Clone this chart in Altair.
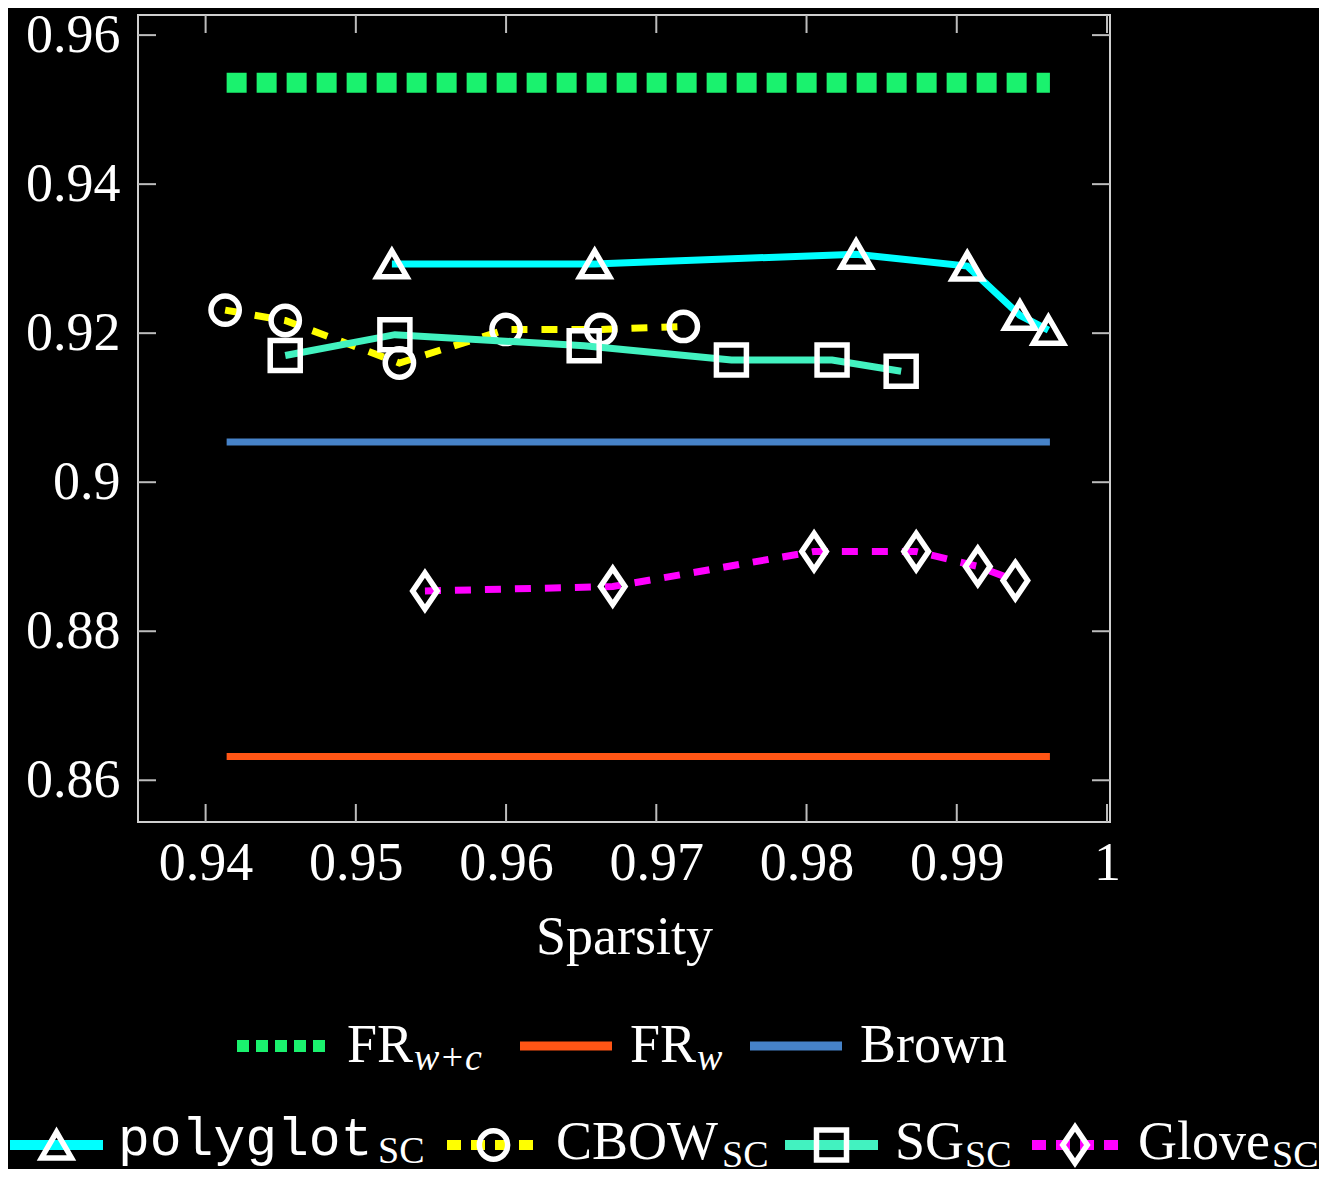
import altair as alt
import pandas as pd

# ---------------- data ----------------
const_x = [0.9414, 0.9962]
fr_wc_y = 0.9536
fr_w_y = 0.8632
brown_y = 0.9054

poly_x = [0.9524, 0.9659, 0.9833, 0.9907, 0.9942, 0.9961]
poly_y = [0.9293, 0.9293, 0.9306, 0.9290, 0.9224, 0.9204]
cbow_x = [0.9413, 0.9453, 0.9529, 0.9600, 0.9663, 0.9718]
cbow_y = [0.9231, 0.9217, 0.9160, 0.9205, 0.9205, 0.9209]
sg_x = [0.9453, 0.9526, 0.9652, 0.9750, 0.9817, 0.9863]
sg_y = [0.9170, 0.9198, 0.9183, 0.9164, 0.9164, 0.9149]
glove_x = [0.9546, 0.9671, 0.9805, 0.9873, 0.9914, 0.9939]
glove_y = [0.8854, 0.8860, 0.8907, 0.8907, 0.8887, 0.8868]

x_ticks = [0.94, 0.95, 0.96, 0.97, 0.98, 0.99, 1.0]
y_ticks = [0.86, 0.88, 0.90, 0.92, 0.94, 0.96]

# ---------------- style ----------------
W, H = 972, 807
SERIF = "Liberation Serif"
MONO = "Liberation Mono"
FS = 54
TICK_COLOR = "#bdbdbd"

xscale = alt.Scale(domain=[0.9355, 1.0002], nice=False, zero=False)
yscale = alt.Scale(domain=[0.8544, 0.9627], nice=False, zero=False)
xaxis = alt.Axis(values=x_ticks, format=".2~f", domain=False, ticks=False, tickSize=0,
                 grid=False, labelPadding=14, labelFont=SERIF, labelFontSize=FS,
                 labelColor="white", labelFlush=False, labelOverlap=False,
                 title="Sparsity", titleFont=SERIF, titleFontSize=FS,
                 titleFontWeight="normal", titleColor="white", titlePadding=20)
yaxis = alt.Axis(values=y_ticks, format=".2~f", domain=False, ticks=False, tickSize=0,
                 grid=False, labelPadding=18, labelFont=SERIF, labelFontSize=FS,
                 labelColor="white", labelFlush=False, labelOverlap=False, title=None)
X = alt.X("x:Q", scale=xscale, axis=xaxis)
Y = alt.Y("y:Q", scale=yscale, axis=yaxis)

layers = []

def series(xs, ys, color, width, dash=None, shape=None, size=None):
    df = pd.DataFrame({"x": xs, "y": ys})
    kw = dict(color=color, strokeWidth=width, strokeCap="butt")
    if dash:
        kw["strokeDash"] = dash
    layers.append(alt.Chart(df).mark_line(**kw).encode(x=X, y=Y))
    if shape:
        layers.append(alt.Chart(df).mark_point(shape=shape, size=size, filled=False,
                                               stroke="white", strokeWidth=5.5, opacity=1,
                                               strokeJoin="miter")
                      .encode(x=X, y=Y))

DIAMOND = "M0,-1L-0.68,0L0,1L0.68,0Z"

series(const_x, [fr_wc_y] * 2, "#1AF26E", 20, dash=[20, 10])
series(const_x, [fr_w_y] * 2, "#FF5515", 7)
series(const_x, [brown_y] * 2, "#4682C8", 7)
series(poly_x, poly_y, "#00FFFF", 7, shape="triangle-up", size=900)
series(cbow_x, cbow_y, "#FFFF00", 7, dash=[16, 14], shape="circle", size=800)
series(sg_x, sg_y, "#42F2C0", 7, shape="square", size=900)
series(glove_x, glove_y, "#FF00FF", 7, dash=[16, 14], shape=DIAMOND, size=1300)

# inside ticks on all four sides
xt = pd.DataFrame({"x": x_ticks})
yt = pd.DataFrame({"y": y_ticks})
TL = 18
layers.append(alt.Chart(xt).mark_rule(color=TICK_COLOR, strokeWidth=2)
              .encode(x=X, y=alt.value(H), y2=alt.value(H - TL)))
layers.append(alt.Chart(xt).mark_rule(color=TICK_COLOR, strokeWidth=2)
              .encode(x=X, y=alt.value(0), y2=alt.value(TL)))
layers.append(alt.Chart(yt).mark_rule(color=TICK_COLOR, strokeWidth=2)
              .encode(y=Y, x=alt.value(0), x2=alt.value(TL)))
layers.append(alt.Chart(yt).mark_rule(color=TICK_COLOR, strokeWidth=2)
              .encode(y=Y, x=alt.value(W - TL), x2=alt.value(W)))

# ---------------- manual legend (two rows below the plot) ----------------
one = alt.Data(values=[{"k": 1}])
OX, OY = 138, 15  # page offset of plot origin

def leg(x0, x1, yc, color, width, dash, shape, size, label, font, tx, base, sub, sx, sub_italic):
    kw = dict(color=color, strokeWidth=width, strokeCap="butt")
    if dash:
        kw["strokeDash"] = dash
    layers.append(alt.Chart(one).mark_rule(**kw).encode(
        x=alt.value(x0 - OX), x2=alt.value(x1 - OX), y=alt.value(yc - OY)))
    if shape:
        layers.append(alt.Chart(one).mark_point(shape=shape, size=size, filled=False,
                                                stroke="white", strokeWidth=5.5, opacity=1)
                      .encode(x=alt.value((x0 + x1) / 2 - OX), y=alt.value(yc - OY)))
    layers.append(alt.Chart(one).mark_text(text=label, align="left", baseline="alphabetic",
                                           font=font, fontSize=FS if font == SERIF else 53,
                                           color="white")
                  .encode(x=alt.value(tx - OX), y=alt.value(base - OY)))
    if sub:
        layers.append(alt.Chart(one).mark_text(text=sub, align="left", baseline="alphabetic",
                                               font=SERIF, fontSize=38, color="white",
                                               fontStyle="italic" if sub_italic else "normal")
                      .encode(x=alt.value(sx - OX), y=alt.value(base + 8 - OY)))

R1, B1 = 1046, 1062
R2, B2 = 1145, 1159
leg(237, 330, R1, "#1AF26E", 12, [12, 7], None, None, "FR", SERIF, 347, B1, "w+c", 414, True)
leg(520, 612, R1, "#FF5515", 9, None, None, None, "FR", SERIF, 630, B1, "w", 697, True)
leg(750, 842, R1, "#4682C8", 9, None, None, None, "Brown", SERIF, 860, B1, None, 0, False)
leg(10, 103, R2, "#00FFFF", 10, None, "triangle-up", 900, "polyglot", MONO, 118, B2 - 4, "SC", 378, False)
leg(447, 540, R2, "#FFFF00", 10, [14, 10], "circle", 800, "CBOW", SERIF, 556, B2, "SC", 722, False)
leg(785, 878, R2, "#42F2C0", 10, None, "square", 900, "SG", SERIF, 895, B2, "SC", 965, False)
leg(1032, 1118, R2, "#FF00FF", 10, [14, 10], DIAMOND, 1300, "Glove", SERIF, 1138, B2, "SC", 1272, False)

chart = alt.layer(*layers).properties(
    width=W, height=H,
    autosize=alt.AutoSizeParams(type="none"),
    padding={"left": 130, "top": 7, "right": 209, "bottom": 347},
).configure(background="black").configure_view(stroke="#cfcfcf", strokeWidth=2)

chart.save("out.html", embed_options={"renderer": "svg", "actions": False})
